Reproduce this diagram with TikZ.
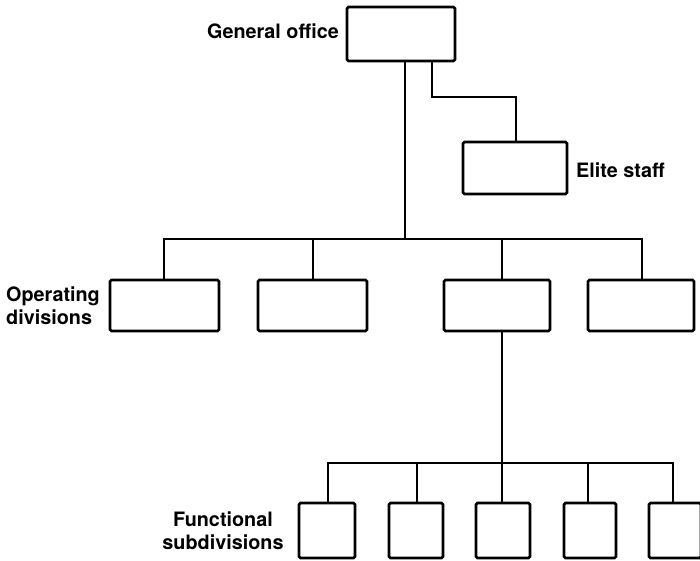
\documentclass[tikz,border=0pt]{standalone}
\usepackage{fontspec}
\setmainfont{TeX Gyre Heros}
\begin{document}
\begin{tikzpicture}[x=1pt,y=-1pt,
  box/.style={draw, line width=2.6pt, rounded corners=1.5pt, inner sep=0pt},
  conn/.style={line width=2.6pt},
  lbl/.style={inner sep=0pt, font=\fontsize{19.8}{23}\selectfont\bfseries}]
\useasboundingbox (0,0) rectangle (700,560);
% boxes
\node[box, minimum width=108pt, minimum height=54pt] (go) at (401,34) {};
\node[box, minimum width=104pt, minimum height=52pt] (elite) at (515,168) {};
\node[box, minimum width=109pt, minimum height=51pt] (op1) at (164.5,305.5) {};
\node[box, minimum width=109pt, minimum height=51pt] (op2) at (312.5,305.5) {};
\node[box, minimum width=106pt, minimum height=51pt] (op3) at (497,305.5) {};
\node[box, minimum width=106pt, minimum height=51pt] (op4) at (641,305.5) {};
\node[box, minimum width=56pt, minimum height=55pt] (s1) at (327,530.5) {};
\node[box, minimum width=54pt, minimum height=55pt] (s2) at (416,530.5) {};
\node[box, minimum width=54pt, minimum height=55pt] (s3) at (503,530.5) {};
\node[box, minimum width=52pt, minimum height=55pt] (s4) at (590,530.5) {};
\node[box, minimum width=52pt, minimum height=55pt] (s5) at (675,530.5) {};
% labels
\node[lbl, anchor=east] (tgo) at (339,31) {General office};
\node[lbl, anchor=west] (tel) at (576,170) {Elite staff};
\node[lbl, anchor=west, align=left] (top) at (6,306) {Operating\\divisions};
\node[lbl, align=center] (tfs) at (223,531) {Functional\\subdivisions};
% junction coordinates
\coordinate (m) at (405,239);
\coordinate (e1) at (432,97);
\coordinate (e2) at (516,97);
\coordinate (b1) at (164,239);
\coordinate (b2) at (313,239);
\coordinate (b3) at (502,239);
\coordinate (b4) at (642,239);
\coordinate (c) at (502,463);
\coordinate (l1) at (328,463);
\coordinate (l2) at (417,463);
\coordinate (l4) at (588,463);
\coordinate (l5) at (673,463);
% connectors
\draw[conn] (m |- go.south) -- (m);
\draw[conn] (e1 |- go.south) -- (e1) -- (e2) -- (e2 |- elite.north);
\draw[conn] (b1 |- op1.north) -- (b1) -- (b4) -- (b4 |- op4.north);
\draw[conn] (b2) -- (b2 |- op2.north);
\draw[conn] (b3) -- (b3 |- op3.north);
\draw[conn] (c |- op3.south) -- (c);
\draw[conn] (l1 |- s1.north) -- (l1) -- (l5) -- (l5 |- s5.north);
\draw[conn] (l2) -- (l2 |- s2.north);
\draw[conn] (c) -- (c |- s3.north);
\draw[conn] (l4) -- (l4 |- s4.north);
\end{tikzpicture}
\end{document}
